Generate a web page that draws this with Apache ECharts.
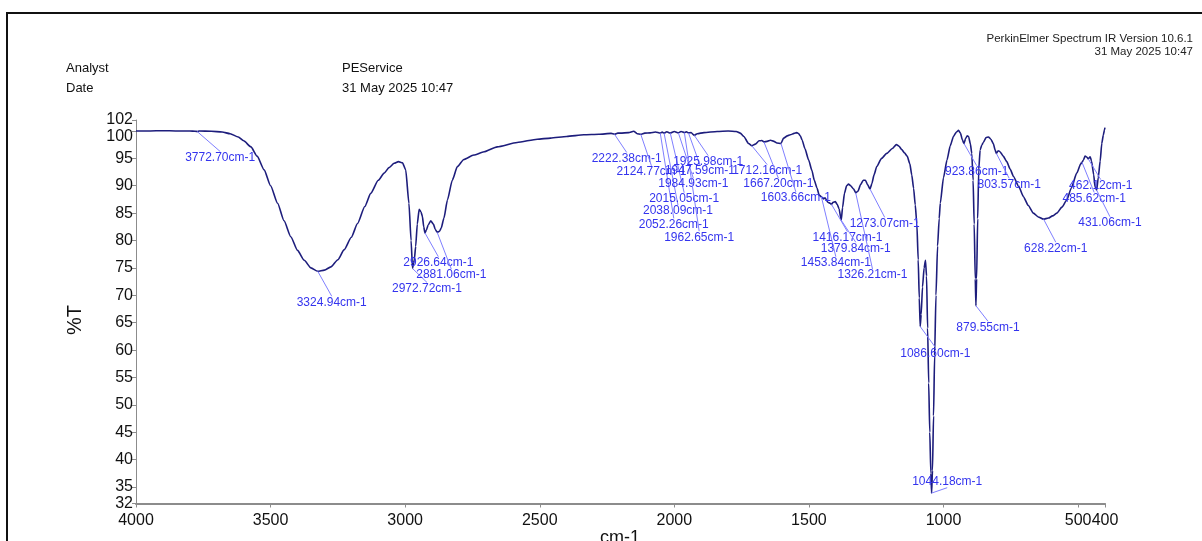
<!DOCTYPE html>
<html>
<head>
<meta charset="utf-8">
<script src="https://cdn.jsdelivr.net/npm/echarts@6/dist/echarts.min.js"></script>
<style>
html,body{margin:0;padding:0;background:#fff;}
#chart{width:1202px;height:541px;}
</style>
</head>
<body>
<div id="chart"></div>
<script>
// ---- Data ----
const wavenumber = [
4000,3950,3900,3850,3800,3780,3772.7,3765,3720,3680,3650,3620,3600,3573,3550,3524,3500,3474,3450,3425,3400,3375,3350,3325,3300,3276,3250,3227,3200,3177,3150,3128,3100,3078,3060,3041,3025,3010,2998,2986,2978,2972.72,2966,2961,2955,2948,2941,2936,2931,2926.64,2921,2915,2905,2895,2888,2881,2872,2866,2856,2843,2825,2806,2782,2745,2707,2658,2584,2509,2460,2400,2336,2280,2235,2222.4,2210,2200,2170,2151,2138,2124.8,2110,2090,2070,2052.3,2045,2038.1,2028,2015.1,2000,1984.9,1975,1962.7,1955,1947.6,1938,1926,1915,1890,1841,1800,1770,1755,1742,1724,1712,1699,1685,1675,1667,1655,1643,1630,1619,1604,1594,1580,1569,1555,1545,1538,1532,1525,1515,1501,1489,1480,1470,1462,1454,1446,1440,1430,1421,1416,1410,1402,1395,1388,1380,1375,1368,1360,1353,1345,1334,1326,1318,1308,1298,1290,1282,1273,1266,1258,1248,1230,1211,1190,1175,1165,1155,1145,1135,1125,1118,1111,1105,1099,1094,1090,1086.6,1083,1078,1072,1067,1063,1059,1055,1051,1047,1044.18,1041,1037,1033,1028,1022,1016,1012,1000,987,975,963,952,944,937,930,924,918,912,907,900,895,890,886,882,879.55,877,873,869,864,858,852,842,833,824,815,808,803.6,797,790,778,765,752,740,720,703,685,666,648,629,610,595,579,560,542,525,505,490,485.6,480,474,467,462,455,450,442,437,431,425,418,412,406,402,400
];
const transmittance = [
100.0,100.0,100.05,100.0,100.0,99.95,99.9,100.0,99.95,99.8,99.5,98.9,98.2,97.1,95.4,92.9,90.0,86.8,83.6,80.7,78.2,76.4,75.0,74.4,74.6,75.2,76.5,78.3,80.6,83.1,86.2,88.6,91.0,92.3,93.3,94.1,94.4,94.2,92.9,86.8,80.0,74.9,76.5,78.9,83.0,85.7,85.2,84.4,82.5,81.4,81.9,82.8,83.6,83.0,82.0,81.5,81.7,82.3,84.1,87.4,91.0,93.5,94.8,95.6,96.2,97.1,97.9,98.5,98.7,99.0,99.3,99.4,99.55,99.4,99.6,99.6,99.7,99.95,99.5,99.4,99.6,99.65,99.8,99.6,99.8,99.6,99.85,99.6,99.9,99.65,99.9,99.7,99.85,99.65,99.7,99.2,99.5,99.7,99.9,100.0,99.9,99.6,99.0,97.7,97.3,97.6,98.2,98.25,98.0,98.1,98.3,98.1,97.8,97.7,98.7,99.1,99.3,99.55,99.7,99.5,99.1,98.3,96.8,94.7,92.8,91.0,89.6,88.3,88.0,87.6,87.8,87.0,86.8,86.6,87.0,87.1,86.6,85.8,83.7,86.0,88.6,90.0,90.3,90.0,89.4,88.7,89.0,90.2,91.0,91.0,90.2,89.4,90.4,92.0,93.5,95.0,95.9,96.8,97.5,97.2,96.6,96.0,95.4,94.0,92.0,89.5,86.5,83.0,76.5,69.5,64.3,66.5,71.5,75.0,76.4,73.5,64.0,54.0,45.0,37.5,33.9,38.0,48.0,59.0,70.0,79.0,84.0,86.8,91.5,94.7,97.3,99.0,99.8,100.1,99.6,98.4,97.7,98.6,99.1,99.0,97.6,95.9,91.0,83.0,73.0,68.1,73.0,84.0,93.0,96.5,97.4,97.9,98.8,98.9,98.5,97.7,96.5,95.9,96.4,96.2,95.4,94.4,93.0,91.7,89.8,88.0,86.4,85.0,84.3,83.9,84.1,84.5,85.0,86.1,87.4,89.6,92.3,94.0,94.3,94.7,95.4,95.2,94.9,95.3,94.5,92.0,89.8,89.2,91.5,94.5,97.7,99.3,100.2,100.6
];
const peakWavenumbers = [3772.70,3324.94,2972.72,2926.64,2881.06,2222.38,2124.77,2052.26,2038.09,2015.05,1984.93,1962.65,1947.59,1925.98,1712.16,1667.20,1603.66,1453.84,1416.17,1379.84,1326.21,1273.07,1086.60,1044.18,923.86,879.55,803.57,628.22,485.62,462.12,431.06];
const peakTransmittance = [99.9,74.4,74.9,81.4,81.5,99.4,99.4,99.6,99.6,99.6,99.65,99.7,99.65,99.2,97.3,98.0,97.7,88.0,86.6,83.7,88.7,89.4,64.3,33.9,97.7,68.1,95.9,83.9,94.3,94.9,89.2];
const xTickValues = [4000,3500,3000,2500,2000,1500,1000,500,400];
const yTickValues = [32,35,40,45,50,55,60,65,70,75,80,85,90,95,100,102];

// ---- Layout (label offsets in px from the peak point) ----
const labelOffsets = [
[23,26],[14,31],[14.5,20],[13.4,29.8],[14.1,42.7],[12.2,24.2],[10.7,37.6],[13.5,91.2],[13.9,77.9],[13.9,65.6],[14.9,51.2],[14.8,104.6],[11.5,38.1],[13.9,26.3],[15.4,24.9],[14.4,42.1],[14.8,54.3],[14.5,66],[16,33.4],[14.5,28],[16.8,82.1],[14.7,34.3],[15.1,26.7],[15.6,-11.4],[12.7,28.1],[12.1,21.6],[12.8,30.9],[12.2,29.1],[12.2,36.2],[12.5,26.7],[13.3,32.6]
];

const FONT = 'Liberation Sans, Arial, sans-serif';
const spectrum = wavenumber.map((w, i) => [w, transmittance[i]]);
const peaks = peakWavenumbers.map((w, i) => [w, peakTransmittance[i]]);

const chart = echarts.init(document.getElementById('chart'), null, {renderer: 'canvas'});
chart.setOption({
  animation: false,
  backgroundColor: '#fff',
  grid: {left: 136, right: 97, top: 120, bottom: 37.5, containLabel: false, outerBoundsMode: 'none'},
  xAxis: {
    type: 'value', min: 400, max: 4000, inverse: true,
    axisLine: {show: true, onZero: false, lineStyle: {color: '#8c8c8c', width: 2}},
    axisTick: {show: true, inside: false, length: 4, customValues: xTickValues, lineStyle: {color: '#8c8c8c'}},
    axisLabel: {customValues: xTickValues, fontFamily: FONT, fontSize: 16, color: '#111', margin: 9, formatter: v => String(v), hideOverlap: false},
    splitLine: {show: false}
  },
  yAxis: {
    type: 'value', min: 32, max: 102,
    axisLine: {show: true, onZero: false, lineStyle: {color: '#8c8c8c', width: 1}},
    axisTick: {show: true, length: 4, customValues: yTickValues, lineStyle: {color: '#8c8c8c'}},
    axisLabel: {
      customValues: yTickValues, fontFamily: FONT, fontSize: 16, color: '#111', margin: 3, hideOverlap: false,
      formatter: v => (v === 100 ? '{d|100}' : String(v)),
      rich: {d: {fontFamily: FONT, fontSize: 16, color: '#111', padding: [12, 0, 0, 0]}}
    },
    splitLine: {show: false}
  },
  graphic: [
    {type: 'rect', shape: {x: 7, y: 13, width: 1220, height: 560}, style: {fill: 'none', stroke: '#111', lineWidth: 2}, silent: true},
    {type: 'text', x: 66, y: 68, style: {text: 'Analyst', font: '13px ' + FONT, fill: '#111', verticalAlign: 'middle'}},
    {type: 'text', x: 66, y: 88, style: {text: 'Date', font: '13px ' + FONT, fill: '#111', verticalAlign: 'middle'}},
    {type: 'text', x: 342, y: 68, style: {text: 'PEService', font: '13px ' + FONT, fill: '#111', verticalAlign: 'middle'}},
    {type: 'text', x: 342, y: 88, style: {text: '31 May 2025 10:47', font: '13px ' + FONT, fill: '#111', verticalAlign: 'middle'}},
    {type: 'text', x: 1193, y: 39, style: {text: 'PerkinElmer Spectrum IR Version 10.6.1', font: '11.5px ' + FONT, fill: '#222', align: 'right', verticalAlign: 'middle'}},
    {type: 'text', x: 1193, y: 52, style: {text: '31 May 2025 10:47', font: '11.5px ' + FONT, fill: '#222', align: 'right', verticalAlign: 'middle'}},
    {type: 'text', x: 75, y: 320, rotation: Math.PI / 2, style: {text: '%T', font: '20px ' + FONT, fill: '#111', align: 'center', verticalAlign: 'middle'}},
    {type: 'text', x: 620, y: 538, style: {text: 'cm-1', font: '18px ' + FONT, fill: '#111', align: 'center', verticalAlign: 'middle'}}
  ],
  series: [
    {
      type: 'line', data: spectrum, showSymbol: false, symbol: 'none',
      smooth: 0.2, smoothMonotone: 'x',
      lineStyle: {color: '#1d1d7c', width: 1.6}, z: 2, clip: false
    },
    {
      type: 'custom', coordinateSystem: 'cartesian2d', data: peaks, z: 3, clip: false,
      encode: {x: 0, y: 1},
      renderItem: function (params, api) {
        const i = params.dataIndex;
        const p = api.coord([api.value(0), api.value(1)]);
        const off = labelOffsets[i];
        const cx = p[0] + off[0], cy = p[1] + off[1];
        const ay = off[1] > 0 ? cy - 6 : cy + 6;
        return {
          type: 'group',
          children: [
            {type: 'line', shape: {x1: p[0], y1: p[1], x2: cx, y2: ay}, style: {stroke: '#7f7fff', lineWidth: 1}},
            {type: 'text', style: {text: peakWavenumbers[i].toFixed(2) + 'cm-1', x: cx, y: cy, align: 'center', verticalAlign: 'middle', font: '12px ' + FONT, fill: '#3434ee'}}
          ]
        };
      }
    }
  ]
});
</script>
</body>
</html>
